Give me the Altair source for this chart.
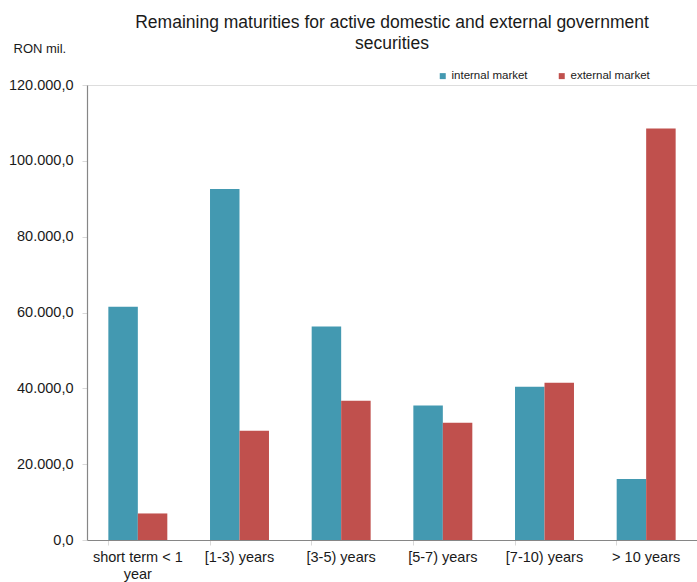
import altair as alt
import pandas as pd

# Remaining maturity buckets
categories = [
    "short term < 1 year",
    "[1-3) years",
    "[3-5) years",
    "[5-7) years",
    "[7-10) years",
    "> 10 years",
]
# RON million
internal_market = [61500, 92600, 56300, 35500, 40400, 16100]
external_market = [7000, 28800, 36700, 30900, 41500, 108500]

series_names = ["internal market", "external market"]
series_colors = ["#4399B1", "#C0504D"]
y_ticks = [0, 20000, 40000, 60000, 80000, 100000, 120000]

rows = []
for cat, a, b in zip(categories, internal_market, external_market):
    rows.append({"bucket": cat, "market": series_names[0], "value": a})
    rows.append({"bucket": cat, "market": series_names[1], "value": b})
df = pd.DataFrame(rows)

FONT = "Liberation Sans"

# thousands "." and decimal "," formatting, e.g. 120.000,0
euro_fmt = (
    "replace(replace(replace(format(datum.value, ',.1f'), ',', '_'), '.', ','), '_', '.')"
)

chart = (
    alt.Chart(df)
    .mark_bar()
    .encode(
        x=alt.X(
            "bucket:N",
            sort=categories,
            scale=alt.Scale(paddingInner=0.42, paddingOuter=0.21),
            axis=alt.Axis(
                title=None,
                labelAngle=0,
                labelFont=FONT,
                labelFontSize=14.5,
                labelColor="#1a1a1a",
                labelPadding=5,
                labelLineHeight=17,
                labelBaseline="top",
                labelExpr="datum.label == 'short term < 1 year' ? ['short term < 1', 'year'] : datum.label",
                bandPosition=0,
                tickColor="#d9d9d9",
                tickSize=5,
                domainColor="#868686",
                domainWidth=1.2,
            ),
        ),
        xOffset=alt.XOffset("market:N", sort=series_names),
        y=alt.Y(
            "value:Q",
            scale=alt.Scale(domain=[0, 120000], nice=False),
            axis=alt.Axis(
                title="RON mil.",
                titleAngle=0,
                titleX=-74,
                titleY=-33,
                titleAlign="left",
                titleBaseline="alphabetic",
                titleFont=FONT,
                titleFontSize=13,
                titleFontWeight="normal",
                titleColor="#1a1a1a",
                values=y_ticks,
                labelExpr=euro_fmt,
                labelFont=FONT,
                labelFontSize=14.5,
                labelColor="#1a1a1a",
                labelPadding=9,
                tickColor="#d9d9d9",
                tickSize=5,
                domainColor="#868686",
                domainWidth=1.2,
                grid=False,
            ),
        ),
        color=alt.Color(
            "market:N",
            sort=series_names,
            scale=alt.Scale(domain=series_names, range=series_colors),
            legend=alt.Legend(
                title=None,
                orient="none",
                legendX=350,
                legendY=-15,
                direction="horizontal",
                symbolType="square",
                symbolSize=36,
                symbolStrokeWidth=0,
                labelFont=FONT,
                labelFontSize=11.5,
                labelColor="#1a1a1a",
                labelOffset=3,
                columnPadding=28,
            ),
        ),
    )
    .properties(
        width=610,
        height=455,
        autosize=alt.AutoSizeParams(type="none"),
        padding={"left": 87, "top": 85, "right": 0, "bottom": 42},
        title=alt.TitleParams(
            text=["Remaining maturities for active domestic and external government", "securities"],
            anchor="middle",
            frame="group",
            font=FONT,
            fontSize=17.5,
            fontWeight="normal",
            color="#1a1a1a",
            lineHeight=21,
            offset=35,
            dy=45,
        ),
    )
    .configure_view(stroke=None)
    .configure(background="white")
)

chart.save("out.html", embed_options={"renderer": "svg", "actions": False})
